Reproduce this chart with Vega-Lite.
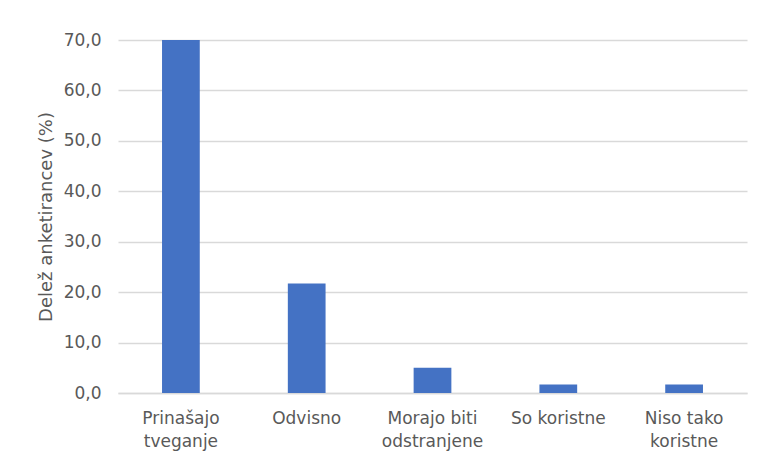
{
  "$schema": "https://vega.github.io/schema/vega-lite/v6.json",
  "width": 629,
  "height": 353,
  "autosize": {"type": "none"},
  "padding": {"left": 118, "top": 40, "right": 23, "bottom": 62},
  "background": "white",
  "data": {
    "values": [
      {"odgovor": "Prinašajo|tveganje", "delez": 70.0},
      {"odgovor": "Odvisno", "delez": 21.7},
      {"odgovor": "Morajo biti|odstranjene", "delez": 5.0},
      {"odgovor": "So koristne", "delez": 1.7},
      {"odgovor": "Niso tako|koristne", "delez": 1.7}
    ]
  },
  "mark": {"type": "bar", "color": "#4472C4"},
  "encoding": {
    "x": {
      "field": "odgovor",
      "type": "nominal",
      "sort": null,
      "scale": {"paddingInner": 0.7, "paddingOuter": 0.35},
      "axis": {
        "title": null,
        "labelAngle": 0,
        "labelExpr": "split(datum.label, '|')",
        "labelFont": "DejaVu Sans",
        "labelFontSize": 17,
        "labelColor": "#595959",
        "labelLineHeight": 23,
        "labelPadding": 17,
        "ticks": false,
        "domainColor": "#d9d9d9",
        "domainWidth": 1.5
      }
    },
    "y": {
      "field": "delez",
      "type": "quantitative",
      "scale": {"domain": [0, 70], "nice": false},
      "axis": {
        "title": "Delež anketirancev (%)",
        "titleFont": "DejaVu Sans",
        "titleFontSize": 18,
        "titleFontWeight": "normal",
        "titleColor": "#595959",
        "titlePadding": 8,
        "values": [0, 10, 20, 30, 40, 50, 60, 70],
        "labelExpr": "replace(format(datum.value, '.1f'), '.', ',')",
        "labelFont": "DejaVu Sans",
        "labelFontSize": 17,
        "labelColor": "#595959",
        "labelPadding": 17,
        "ticks": false,
        "domain": false,
        "gridColor": "#d9d9d9",
        "gridWidth": 1.5
      }
    }
  },
  "config": {"view": {"stroke": null}}
}
